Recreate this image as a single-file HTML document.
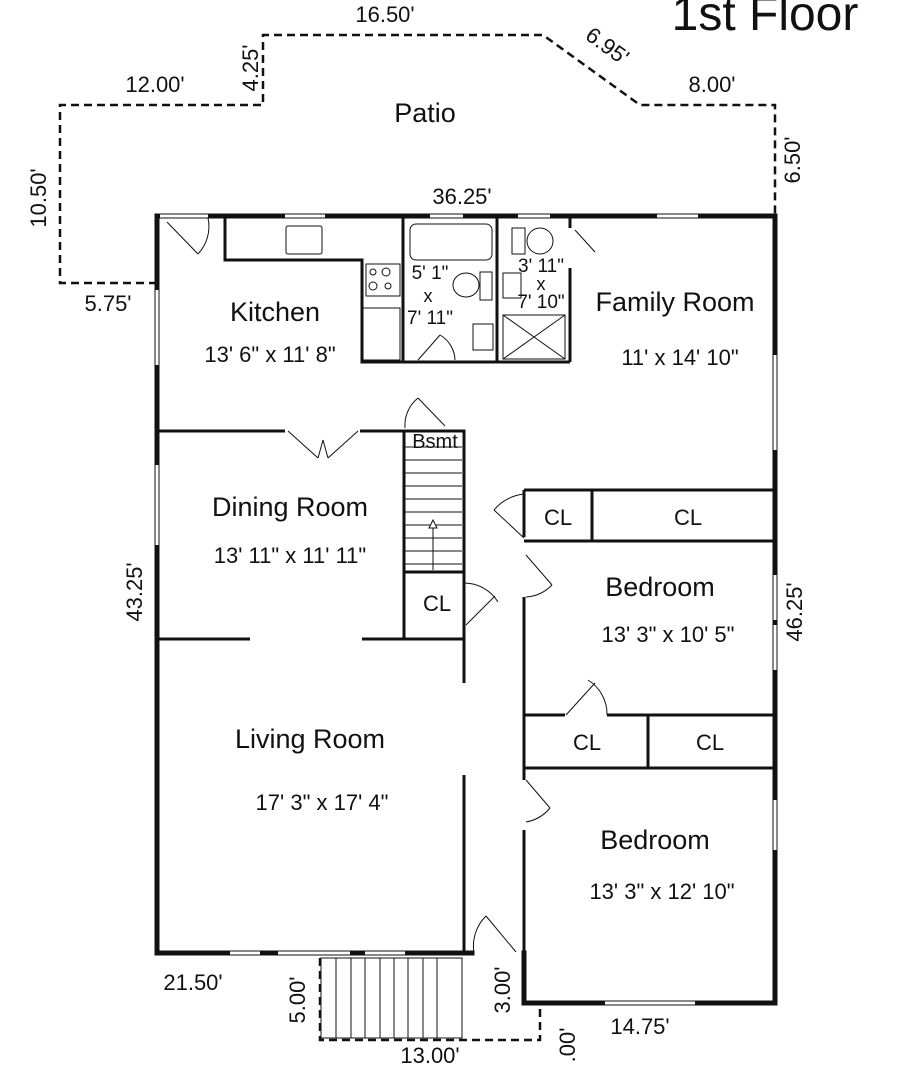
<!DOCTYPE html>
<html><head><style>body{margin:0;background:#fff}svg{display:block}text{font-family:"Liberation Sans",sans-serif;fill:#111}</style></head><body>
<svg width="900" height="1066" viewBox="0 0 900 1066" xmlns="http://www.w3.org/2000/svg">
<g fill="none" stroke="#111" stroke-width="2.5" stroke-dasharray="8,5">
<polyline points="157,283 60,283 60,105 263,105 263,35 543,35 640,105 775,105 775,216"/>
<polyline points="320,958 320,1040 540,1040 540,1003"/>
</g>
<g stroke="#111" stroke-width="5" fill="none" stroke-linecap="square">
<line x1="157" y1="216" x2="775" y2="216"/>
<line x1="157" y1="216" x2="157" y2="953"/>
<line x1="157" y1="953" x2="472" y2="953"/>
<line x1="524" y1="953" x2="524" y2="1003"/>
<line x1="524" y1="1003" x2="775" y2="1003"/>
<line x1="775" y1="216" x2="775" y2="1003"/>
</g>
<g stroke="#fff" stroke-width="3">
<line x1="160" y1="216" x2="208" y2="216"/><line x1="285" y1="216" x2="325" y2="216"/><line x1="430" y1="216" x2="463" y2="216"/><line x1="518" y1="216" x2="550" y2="216"/><line x1="657" y1="216" x2="698" y2="216"/>
<line x1="157" y1="290" x2="157" y2="365"/><line x1="157" y1="465" x2="157" y2="545"/><line x1="775" y1="355" x2="775" y2="450"/><line x1="775" y1="575" x2="775" y2="620"/><line x1="775" y1="625" x2="775" y2="670"/><line x1="775" y1="800" x2="775" y2="850"/>
<line x1="230" y1="953" x2="260" y2="953"/><line x1="278" y1="953" x2="350" y2="953"/><line x1="365" y1="953" x2="405" y2="953"/><line x1="605" y1="1003" x2="695" y2="1003"/>
</g>
<g stroke="#111" stroke-width="3" fill="none">
<polyline points="225,216 225,260 362,260 362,362 570,362"/>
<line x1="403" y1="216" x2="403" y2="362"/><line x1="497" y1="216" x2="497" y2="362"/><line x1="570" y1="216" x2="570" y2="228"/><line x1="570" y1="268" x2="570" y2="362"/>
<line x1="157" y1="431" x2="285" y2="431"/><line x1="360" y1="431" x2="404" y2="431"/>
<rect x="404" y="431" width="60" height="208"/><line x1="404" y1="572" x2="464" y2="572"/>
<line x1="464" y1="572" x2="464" y2="582"/><line x1="464" y1="625" x2="464" y2="683"/><line x1="464" y1="775" x2="464" y2="953"/>
<line x1="157" y1="639" x2="250" y2="639"/><line x1="362" y1="639" x2="404" y2="639"/>
<line x1="524" y1="490" x2="775" y2="490"/><line x1="524" y1="541" x2="775" y2="541"/><line x1="592" y1="490" x2="592" y2="541"/>
<line x1="524" y1="490" x2="524" y2="537"/><line x1="524" y1="597" x2="524" y2="780"/><line x1="524" y1="830" x2="524" y2="953"/>
<line x1="524" y1="715" x2="565" y2="715"/><line x1="607" y1="715" x2="775" y2="715"/><line x1="524" y1="768" x2="775" y2="768"/><line x1="648" y1="715" x2="648" y2="768"/>
</g>
<g stroke="#111" stroke-width="1" fill="none">
<line x1="405" y1="447" x2="462" y2="447"/><line x1="405" y1="460" x2="462" y2="460"/><line x1="405" y1="473" x2="462" y2="473"/><line x1="405" y1="486" x2="462" y2="486"/><line x1="405" y1="499" x2="462" y2="499"/><line x1="405" y1="512" x2="462" y2="512"/><line x1="405" y1="525" x2="462" y2="525"/><line x1="405" y1="538" x2="462" y2="538"/><line x1="405" y1="551" x2="462" y2="551"/><line x1="405" y1="564" x2="462" y2="564"/>
<line x1="433" y1="570" x2="433" y2="522"/><polygon points="429,528 433,520 437,528" fill="#fff"/>
<rect x="321" y="958" width="141" height="80"/>
<line x1="336" y1="958" x2="336" y2="1038"/><line x1="351" y1="958" x2="351" y2="1038"/><line x1="365" y1="958" x2="365" y2="1038"/><line x1="380" y1="958" x2="380" y2="1038"/><line x1="394" y1="958" x2="394" y2="1038"/><line x1="408" y1="958" x2="408" y2="1038"/><line x1="423" y1="958" x2="423" y2="1038"/><line x1="437" y1="958" x2="437" y2="1038"/>
<rect x="286" y="226" width="36" height="28" rx="2"/><rect x="366" y="264" width="34" height="32"/><circle cx="373" cy="272" r="3"/><circle cx="386" cy="272" r="4"/><circle cx="373" cy="286" r="4"/><circle cx="388" cy="286" r="3"/>
<rect x="363" y="308" width="37" height="52"/><rect x="410" y="224" width="82" height="36" rx="6"/><rect x="512" y="228" width="13" height="26"/><circle cx="540" cy="241" r="13"/>
<ellipse cx="466" cy="285" rx="13" ry="12"/><rect x="480" y="272" width="12" height="28"/><rect x="473" y="324" width="20" height="26"/><rect x="503" y="273" width="18" height="25"/>
<rect x="503" y="315" width="62" height="44"/><line x1="503" y1="315" x2="565" y2="359"/><line x1="565" y1="315" x2="503" y2="359"/>
<line x1="167" y1="222" x2="198" y2="254"/><path d="M208 218 A40 40 0 0 1 198 254"/>
<line x1="575" y1="230" x2="595" y2="252"/><line x1="418" y1="360" x2="440" y2="335"/><path d="M440 335 A30 30 0 0 1 455 360"/>
<line x1="418" y1="398" x2="445" y2="426"/><path d="M418 398 A35 35 0 0 0 405 428"/>
<line x1="288" y1="431" x2="318" y2="458"/><line x1="358" y1="431" x2="328" y2="458"/><line x1="318" y1="458" x2="323" y2="440"/><line x1="328" y1="458" x2="323" y2="440"/>
<line x1="466" y1="625" x2="495" y2="596"/><path d="M464 583 A40 40 0 0 1 498 602"/>
<line x1="524" y1="538" x2="494" y2="510"/><path d="M494 510 A45 45 0 0 1 524 494"/>
<line x1="526" y1="555" x2="552" y2="585"/><path d="M552 585 A40 40 0 0 1 526 597"/>
<line x1="566" y1="715" x2="595" y2="683"/><path d="M588 680 A40 40 0 0 1 607 715"/>
<line x1="526" y1="780" x2="550" y2="808"/><path d="M550 808 A40 40 0 0 1 526 822"/>
<line x1="486" y1="916" x2="516" y2="952"/><path d="M474 953 A42 42 0 0 1 486 916"/>
</g>
<g font-size="27" text-anchor="middle">
<text x="425" y="122">Patio</text>
<text x="275" y="321">Kitchen</text>
<text x="675" y="311">Family Room</text>
<text x="290" y="516">Dining Room</text>
<text x="660" y="596">Bedroom</text>
<text x="310" y="748">Living Room</text>
<text x="655" y="849">Bedroom</text>
</g>
<g font-size="22" text-anchor="middle">
<text x="270" y="362">13' 6" x 11' 8"</text>
<text x="680" y="365">11' x 14' 10"</text>
<text x="290" y="563">13' 11" x 11' 11"</text>
<text x="668" y="642">13' 3" x 10' 5"</text>
<text x="322" y="810">17' 3" x 17' 4"</text>
<text x="662" y="899">13' 3" x 12' 10"</text>
<text x="558" y="525">CL</text><text x="688" y="525">CL</text><text x="437" y="611">CL</text><text x="587" y="750">CL</text><text x="710" y="750">CL</text>
<text x="462" y="204">36.25'</text><text x="385" y="22">16.50'</text><text x="155" y="92">12.00'</text><text x="712" y="92">8.00'</text><text x="108" y="311">5.75'</text><text x="193" y="990">21.50'</text><text x="430" y="1063">13.00'</text><text x="640" y="1034">14.75'</text>
<text transform="translate(258,68) rotate(-90)">4.25'</text>
<text transform="translate(46,198) rotate(-90)">10.50'</text>
<text transform="translate(800,160) rotate(-90)">6.50'</text>
<text transform="translate(142,592) rotate(-90)">43.25'</text>
<text transform="translate(802,612) rotate(-90)">46.25'</text>
<text transform="translate(305,1000) rotate(-90)">5.00'</text>
<text transform="translate(510,990) rotate(-90)">3.00'</text>
<text transform="translate(575,1045) rotate(-90)">.00'</text>
<text transform="translate(603,52) rotate(36)">6.95'</text>
<text x="430" y="279" font-size="19">5' 1"</text><text x="428" y="302" font-size="18">x</text><text x="430" y="324" font-size="19">7' 11"</text>
<text x="541" y="272" font-size="19">3' 11"</text><text x="541" y="290" font-size="18">x</text><text x="541" y="308" font-size="19">7' 10"</text>
<text x="435" y="448" font-size="20">Bsmt</text>
</g>
<text x="765" y="30" font-size="48" text-anchor="middle">1st Floor</text>
</svg>
</body></html>
